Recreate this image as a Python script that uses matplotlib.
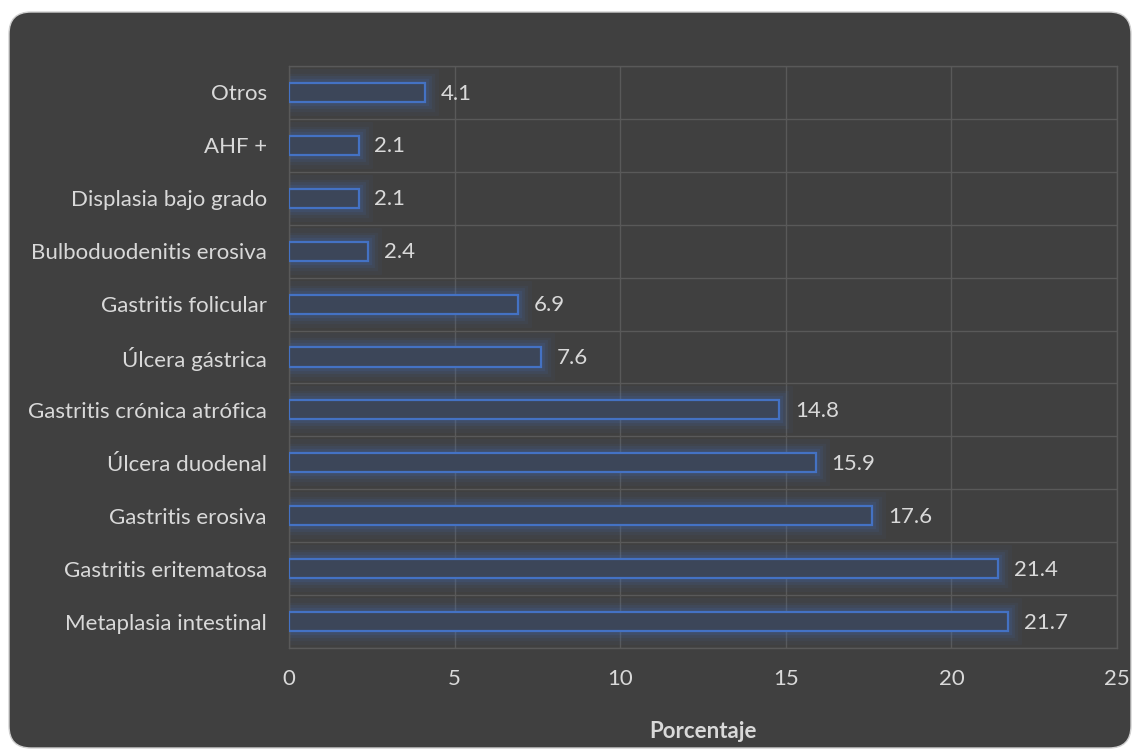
import matplotlib
matplotlib.use("Agg")
import matplotlib.pyplot as plt
from matplotlib.patches import FancyBboxPatch
from matplotlib.transforms import IdentityTransform
import numpy as np

categories = [
    "Metaplasia intestinal",
    "Gastritis eritematosa",
    "Gastritis erosiva",
    "Úlcera duodenal",
    "Gastritis crónica atrófica",
    "Úlcera gástrica",
    "Gastritis folicular",
    "Bulboduodenitis erosiva",
    "Displasia bajo grado",
    "AHF +",
    "Otros",
]
values = [21.7, 21.4, 17.6, 15.9, 14.8, 7.6, 6.9, 2.4, 2.1, 2.1, 4.1]
xticks = [0, 5, 10, 15, 20, 25]

plt.rcParams["font.family"] = ["Lato", "DejaVu Sans"]
text_color = "#D9D9D9"
bg = "#404040"
grid_color = "#595959"
edge_blue = "#4472C4"
fs = 16

W, H = 1132, 750
fig = plt.figure(figsize=(W / 100, H / 100), dpi=100)
fig.patch.set_facecolor("white")

# rounded dark panel (pixel coordinates, origin bottom-left)
panel = FancyBboxPatch((9, 2), 1131 - 9, 738 - 2,
                       boxstyle="round,pad=0,rounding_size=22",
                       transform=IdentityTransform(), facecolor=bg,
                       edgecolor="#D0D0D0", linewidth=1.0, zorder=-5)
fig.patches.append(panel)

ax = fig.add_axes([289 / W, 1 - 648 / H, (1117 - 289) / W, (648 - 66) / H])
ax.set_facecolor("none")
ax.set_zorder(2)

y = np.arange(len(categories))
h = 0.36

# soft glow around the bars
for lw, a in [(20, 0.05), (14, 0.07), (10, 0.10), (6, 0.14)]:
    ax.barh(y, values, height=h, color="none", edgecolor=edge_blue,
            linewidth=lw, alpha=a, zorder=2)
ax.barh(y, values, height=h, color="#3C4659", edgecolor=edge_blue,
        linewidth=1.6, zorder=3)

for yi, v in zip(y, values):
    ax.text(v + 0.48, yi - 0.02, f"{v}", va="center", ha="left",
            color=text_color, fontsize=fs, zorder=4)

ax.set_xlim(0, 25)
ax.set_ylim(-0.5, len(categories) - 0.5)
ax.set_xticks(xticks)
ax.set_xticklabels([str(t) for t in xticks])
ax.set_yticks(y)
ax.set_yticklabels(categories)
ax.set_yticks(np.arange(-0.5, len(categories), 1), minor=True)

ax.grid(axis="x", which="major", color=grid_color, linewidth=1.0, zorder=0)
ax.grid(axis="y", which="minor", color=grid_color, linewidth=1.0, zorder=0)
ax.set_axisbelow(True)

for s in ["top", "right", "bottom", "left"]:
    ax.spines[s].set_color(grid_color)
    ax.spines[s].set_linewidth(1.0)

ax.tick_params(axis="both", which="both", length=0, colors=text_color,
               labelsize=fs)
ax.tick_params(axis="x", pad=15)
ax.tick_params(axis="y", pad=16)

ax.set_xlabel("Porcentaje", color=text_color, fontsize=fs, fontweight="bold",
              labelpad=23)

fig.savefig("out.png", dpi=100, facecolor=fig.get_facecolor())
